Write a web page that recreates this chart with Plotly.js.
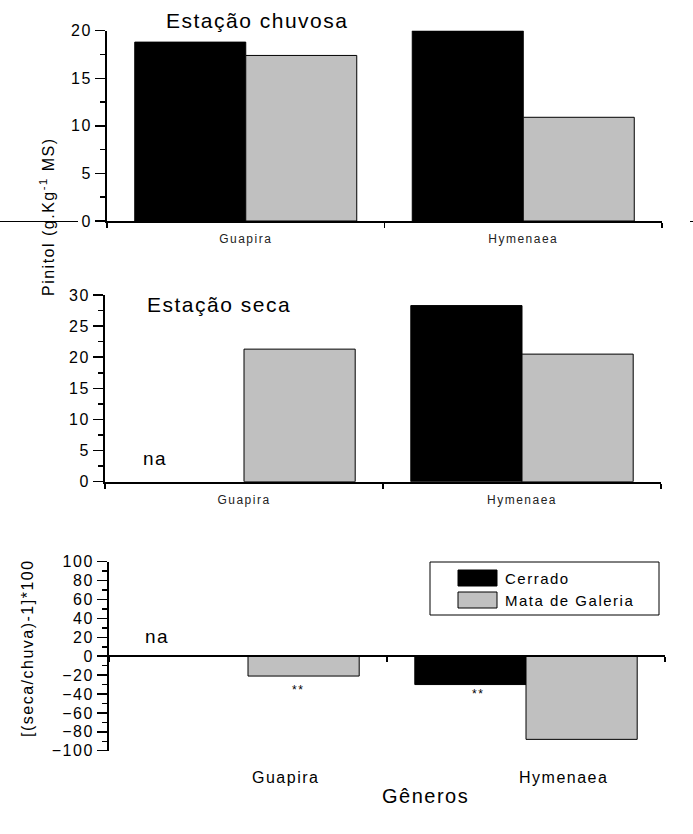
<!DOCTYPE html>
<html>
<head>
<meta charset="utf-8">
<script src="https://cdn.plot.ly/plotly-3.0.1.min.js"></script>
<style>
  html, body { margin: 0; padding: 0; background: #fff; }
  #chart { width: 693px; height: 834px; }
  svg text { letter-spacing: 1.5px; }
</style>
</head>
<body>
<div id="chart"></div>
<script>
// ---- data ----
const categories = ['Guapira', 'Hymenaea'];
const seriesNames = ['Cerrado', 'Mata de Galeria'];
const chuvaCerrado = [18.8, 20.0];
const chuvaMata = [17.4, 10.9];
const secaCerrado = [null, 28.3];
const secaMata = [21.3, 20.5];
const varCerrado = [null, -30];
const varMata = [-21, -88];
const yTicks1 = [0, 5, 10, 15, 20];
const yTicks2 = [0, 5, 10, 15, 20, 25, 30];
const yTicks3 = [-100, -80, -60, -40, -20, 0, 20, 40, 60, 80, 100];

// ---- style ----
const W = 693, H = 834;
const cBlack = '#000000';
const cGray = '#c0c0c0';
const FONT = '"Liberation Sans", Arial, sans-serif';
const px = v => v / W;
const py = v => 1 - v / H;

function bar(x, y, name, color, xa, ya) {
  return {
    type: 'bar', x: x, y: y, name: name, xaxis: xa, yaxis: ya,
    marker: { color: color, line: { color: '#000', width: 1 } },
    showlegend: false, hoverinfo: 'skip'
  };
}

const data = [
  bar(categories, chuvaCerrado, seriesNames[0], cBlack, 'x', 'y'),
  bar(categories, chuvaMata, seriesNames[1], cGray, 'x', 'y'),
  bar(categories, secaCerrado, seriesNames[0], cBlack, 'x2', 'y2'),
  bar(categories, secaMata, seriesNames[1], cGray, 'x2', 'y2'),
  bar(categories, varCerrado, seriesNames[0], cBlack, 'x3', 'y3'),
  bar(categories, varMata, seriesNames[1], cGray, 'x3', 'y3')
];

function xAxis(domain, anchor, showLabels, extra) {
  return Object.assign({
    domain: domain, anchor: anchor, type: 'category',
    showline: true, linecolor: '#000', linewidth: 2,
    ticks: 'outside', ticklen: 5, tickwidth: 1.5, tickcolor: '#000',
    tickson: 'boundaries', showgrid: false, zeroline: false,
    showticklabels: showLabels, ticklabelstandoff: 6,
    tickfont: { family: FONT, size: 12, color: '#222' },
    fixedrange: true
  }, extra || {});
}
function yAxis(domain, anchor, range, vals, minorDt) {
  return {
    domain: domain, anchor: anchor, range: range,
    tickmode: 'array', tickvals: vals,
    showline: true, linecolor: '#000', linewidth: 2,
    ticks: 'outside', ticklen: 10, tickwidth: 1.5, tickcolor: '#000',
    minor: { dtick: minorDt, ticks: 'outside', ticklen: 5, tickwidth: 1.5, tickcolor: '#000', showgrid: false },
    showgrid: false, zeroline: false,
    tickfont: { family: FONT, size: 16, color: '#000' },
    fixedrange: true
  };
}

const ann = (text, x, y, size, extra) => Object.assign({
  text: text, xref: 'paper', yref: 'paper', x: px(x), y: py(y),
  xanchor: 'center', yanchor: 'middle', showarrow: false,
  font: { family: FONT, size: size, color: '#000' }
}, extra || {});

const layout = {
  width: W, height: H,
  margin: { l: 0, r: 0, t: 0, b: 0 },
  paper_bgcolor: '#fff', plot_bgcolor: 'rgba(0,0,0,0)',
  barmode: 'group', bargap: 0.2, bargroupgap: 0,
  showlegend: false,
  xaxis: xAxis([px(107), px(662)], 'y', true),
  yaxis: yAxis([py(221), py(30.7)], 'x', [0, 20], yTicks1, 2.5),
  xaxis2: xAxis([px(105), px(661)], 'y2', true),
  yaxis2: yAxis([py(481.7), py(295)], 'x2', [0, 30], yTicks2, 2.5),
  xaxis3: xAxis([px(109), px(665)], 'free', false, { position: py(656.2) }),
  yaxis3: yAxis([py(750.7), py(561.7)], 'x3', [-100, 100], yTicks3, 10),
  annotations: [
    ann('Estação chuvosa', 257, 21, 21),
    ann('Estação seca', 219, 305, 21),
    ann('na', 155, 458, 19),
    ann('na', 157, 636, 19),
    ann('**', 298, 690, 12),
    ann('**', 478, 694, 12),
    ann('Pinitol (g.Kg<sup>-1</sup> MS)', 47, 217, 16, { textangle: -90 }),
    ann('[(seca/chuva)-1]*100', 27, 648, 16, { textangle: -90 }),
    ann(categories[0], 285, 777, 16),
    ann(categories[1], 563, 777, 16),
    ann('Gêneros', 426, 796, 20),
    ann(seriesNames[0], 503, 578, 15, { xanchor: 'left' }),
    ann(seriesNames[1], 503, 600, 15, { xanchor: 'left' })
  ],
  shapes: [
    // stray line segments in the original figure
    { type: 'line', xref: 'paper', yref: 'paper', x0: 0, x1: px(78), y0: py(221.5), y1: py(221.5), line: { color: '#000', width: 1 } },
    { type: 'line', xref: 'paper', yref: 'paper', x0: px(690), x1: 1, y0: py(221.5), y1: py(221.5), line: { color: '#000', width: 1 } },
    // legend box and swatches
    { type: 'rect', xref: 'paper', yref: 'paper', x0: px(430), x1: px(659), y0: py(615), y1: py(562), line: { color: '#000', width: 1 }, fillcolor: 'rgba(0,0,0,0)' },
    { type: 'rect', xref: 'paper', yref: 'paper', x0: px(458), x1: px(497), y0: py(586), y1: py(570), line: { color: '#000', width: 1 }, fillcolor: cBlack },
    { type: 'rect', xref: 'paper', yref: 'paper', x0: px(458), x1: px(497), y0: py(608), y1: py(592), line: { color: '#000', width: 1 }, fillcolor: cGray }
  ]
};

Plotly.newPlot('chart', data, layout, { displayModeBar: false, staticPlot: true });
</script>
</body>
</html>
